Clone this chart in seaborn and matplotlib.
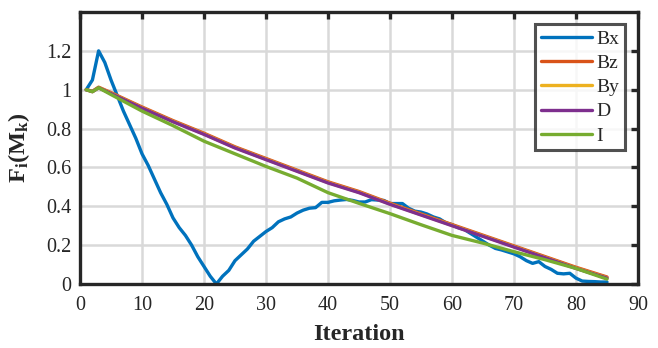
import numpy as np
import pandas as pd
import matplotlib
matplotlib.use("Agg")
import matplotlib.pyplot as plt
import seaborn as sns

# =========================
# DATA
# =========================
iters_bx = list(range(1, 86))
bx = [1.00, 1.05, 1.20, 1.14, 1.05, 0.97, 0.89, 0.82, 0.75, 0.67,
      0.61, 0.54, 0.47, 0.41, 0.34, 0.29, 0.25, 0.20, 0.14, 0.09,
      0.04, 0.00, 0.04, 0.07, 0.12, 0.15, 0.18, 0.22, 0.245, 0.27,
      0.29, 0.32, 0.335, 0.345, 0.365, 0.38, 0.39, 0.393, 0.42, 0.42,
      0.428, 0.432, 0.435, 0.43, 0.422, 0.422, 0.434, 0.432, 0.43, 0.414,
      0.414, 0.414, 0.39, 0.375, 0.37, 0.36, 0.345, 0.335, 0.315, 0.305,
      0.29, 0.28, 0.26, 0.24, 0.22, 0.20, 0.183, 0.175, 0.165, 0.155,
      0.14, 0.12, 0.106, 0.115, 0.09, 0.075, 0.055, 0.052, 0.055, 0.03,
      0.015, 0.013, 0.012, 0.01, 0.01]

iters_smooth = [1, 2, 3, 5, 10, 15, 20, 25, 30, 35, 40, 45, 50, 55, 60, 65, 70, 75, 80, 85]
bz = [1.0, 0.992, 1.013, 0.985, 0.911, 0.841, 0.776, 0.706, 0.646, 0.586,
      0.526, 0.476, 0.416, 0.361, 0.306, 0.251, 0.196, 0.141, 0.086, 0.036]
by = [1.0, 0.99, 1.011, 0.982, 0.907, 0.837, 0.772, 0.702, 0.642, 0.582,
      0.522, 0.472, 0.412, 0.357, 0.302, 0.247, 0.192, 0.137, 0.082, 0.032]
d = [1.0, 0.99, 1.01, 0.98, 0.905, 0.835, 0.77, 0.70, 0.64, 0.58,
     0.52, 0.47, 0.41, 0.355, 0.30, 0.245, 0.19, 0.135, 0.08, 0.03]
i_vals = [1.0, 0.99, 1.01, 0.975, 0.89, 0.815, 0.735, 0.67, 0.605, 0.545,
          0.47, 0.415, 0.362, 0.305, 0.25, 0.21, 0.166, 0.125, 0.08, 0.025]

series_names = ["Bx", "Bz", "By", "D", "I"]
colors = ["#0072BD", "#D95319", "#EDB120", "#7E2F8E", "#77AC30"]

frames = [pd.DataFrame({"Iteration": iters_bx, "F": bx, "series": "Bx"})]
for name, vals in zip(["Bz", "By", "D", "I"], [bz, by, d, i_vals]):
    frames.append(pd.DataFrame({"Iteration": iters_smooth, "F": vals, "series": name}))
df = pd.concat(frames, ignore_index=True)

# =========================
# STYLE
# =========================
sns.set_style("white")
plt.rcParams["font.family"] = ["Liberation Serif", "DejaVu Serif"]
plt.rcParams["mathtext.fontset"] = "custom"
plt.rcParams["mathtext.rm"] = "Liberation Serif"
plt.rcParams["mathtext.bf"] = "Liberation Serif:bold"
plt.rcParams["mathtext.it"] = "Liberation Serif:italic"

fig = plt.figure(figsize=(6.58, 3.48), dpi=100)
ax = fig.add_axes([0.1216, 0.184, 0.848, 0.7815])

sns.lineplot(data=df, x="Iteration", y="F", hue="series", hue_order=series_names,
             palette=colors, estimator=None, sort=False, linewidth=2.4, ax=ax)

ax.set_xlim(0, 90)
ax.set_ylim(0, 1.4)
ax.set_xticks(np.arange(0, 91, 10))
yt = [0, 0.2, 0.4, 0.6, 0.8, 1.0, 1.2]
ax.set_yticks(yt)
ax.set_yticklabels(["0", "0.2", "0.4", "0.6", "0.8", "1", "1.2"])

ax.grid(True, color="#d9d9d9", linewidth=1.8)
ax.set_axisbelow(True)
for s in ax.spines.values():
    s.set_visible(True)
    s.set_color("#262626")
    s.set_linewidth(2.4)
ax.tick_params(direction="in", length=5, width=2.4, top=True, right=True,
               labelsize=14.5, colors="#262626")
ax.tick_params(axis="x", pad=9)
ax.tick_params(axis="y", pad=6)

ax.set_xlabel("Iteration", fontsize=17.5, fontweight="bold", labelpad=6)
ax.set_ylabel(r"$\mathbf{F_i(M_k)}$", fontsize=17.5, labelpad=10)

leg = ax.legend(loc="upper right", bbox_to_anchor=(0.977, 0.955), fontsize=14,
                frameon=True, fancybox=False, handlelength=2.6, handletextpad=0.25,
                borderpad=0.3, labelspacing=0.34, borderaxespad=0.0)
leg.get_frame().set_edgecolor("#262626")
leg.get_frame().set_linewidth(2.2)
for line in leg.get_lines():
    line.set_linewidth(2.4)

fig.savefig("out.png", dpi=100)
